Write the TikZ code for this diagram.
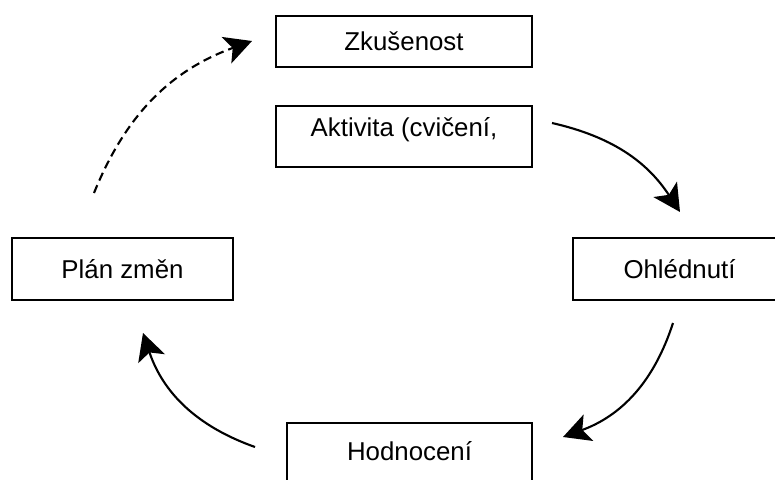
\documentclass[tikz,border=0pt]{standalone}
\usepackage{fontspec}
\setmainfont{Liberation Sans}
\usetikzlibrary{arrows.meta}

\tikzset{
  stagebox/.style={draw, line width=1.1pt, inner sep=0pt, text height=0.37cm, text depth=0pt,
    font=\fontsize{14.7}{17}\selectfont},
  cyclearrow/.style={line width=1.2pt, -{Stealth[length=0.54cm, width=0.56cm, inset=0.13cm]}}
}

\begin{document}
\begin{tikzpicture}[x=0.02cm, y=-0.02cm]
\useasboundingbox (0,0) rectangle (775,480);
\clip (0,0) rectangle (775,480);
\node[stagebox, minimum width=5.12cm, minimum height=1.02cm] (zkus) at (404,41.5) {Zkušenost};
\node[stagebox, minimum width=5.12cm, minimum height=1.22cm, text depth=0.37cm] (akt) at (404,136.5) {Aktivita (cvičení,};
\node[stagebox, minimum width=4.42cm, minimum height=1.24cm] (plan) at (122.5,269) {Plán změn};
\node[stagebox, minimum width=4.26cm, minimum height=1.24cm] (ohl) at (679.5,269) {Ohlédnutí};
\node[stagebox, minimum width=4.9cm, minimum height=1.24cm, text depth=0.1cm] (hod) at (409.5,454) {Hodnocení};
\coordinate (planout) at (94,193);
\coordinate (zkusin) at (252,41);
\coordinate (aktout) at (552,123);
\coordinate (ohlin) at (680,212);
\coordinate (ohlout) at (673,323);
\coordinate (hodin) at (563,437);
\coordinate (hodout) at (255,447);
\coordinate (planin) at (143,333);
\draw[cyclearrow, dash pattern=on 0.17cm off 0.1cm] (planout) to[bend left=24] (zkusin);
\draw[cyclearrow] (aktout) to[bend left=22] (ohlin);
\draw[cyclearrow] (ohlout) to[bend left=26] (hodin);
\draw[cyclearrow] (hodout) to[bend left=26] (planin);
\end{tikzpicture}
\end{document}
